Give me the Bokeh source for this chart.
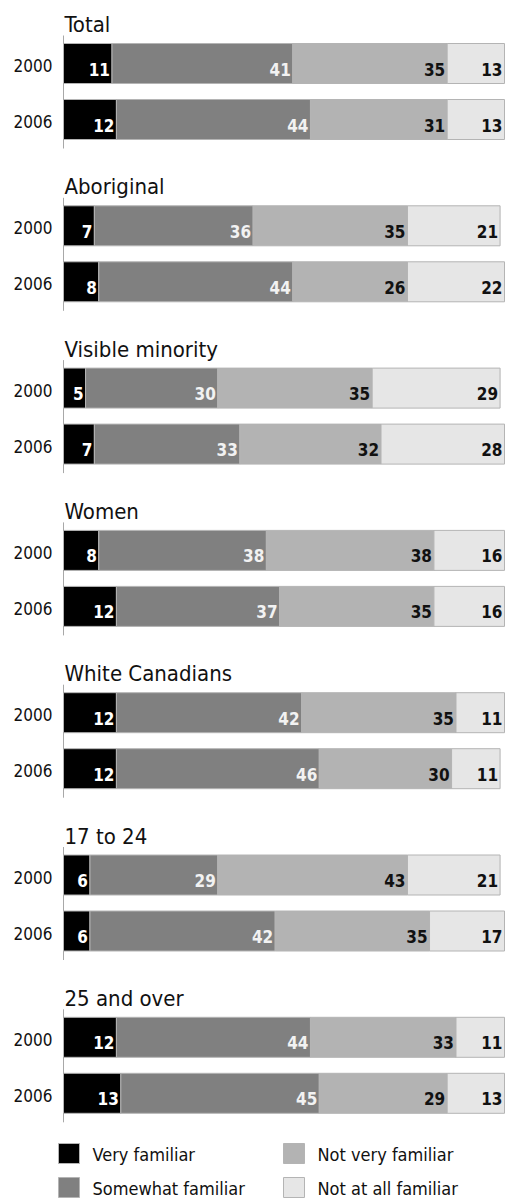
from bokeh.plotting import figure
from bokeh.models import ColumnDataSource, Range1d
from bokeh.core.properties import value
from bokeh.embed import file_html
from bokeh.resources import INLINE

# ---------------- data ----------------
groups = ["Total", "Aboriginal", "Visible minority", "Women",
          "White Canadians", "17 to 24", "25 and over"]
years = ["2000", "2006"]
categories = ["Very familiar", "Somewhat familiar",
              "Not very familiar", "Not at all familiar"]
# order: group1-2000, group1-2006, group2-2000, ...
very_familiar = [11, 12, 7, 8, 5, 7, 8, 12, 12, 12, 6, 6, 12, 13]
somewhat_familiar = [41, 44, 36, 44, 30, 33, 38, 37, 42, 46, 29, 42, 44, 45]
not_very_familiar = [35, 31, 35, 26, 35, 32, 38, 35, 35, 30, 43, 35, 33, 29]
not_at_all_familiar = [13, 13, 21, 22, 29, 28, 16, 16, 11, 11, 21, 17, 11, 13]
series = [very_familiar, somewhat_familiar, not_very_familiar, not_at_all_familiar]

# ---------------- styling / layout ----------------
colors = ["#000000", "#808080", "#b3b3b3", "#e6e6e6"]
label_colors = ["#ffffff", "#f2f2f2", "#111111", "#111111"]
FONT = value("DejaVu Sans Condensed, Roboto Condensed, Roboto, sans-serif")
W, H = 508, 1201
X0 = 63.0          # pixel where 0 % sits
SCALE = 4.41       # pixels per percent
FIRST_TOP = 43.0
GROUP_PITCH = 162.3
BAR_PITCH = 56.0
BAR_H = 40.0
TXT = -6.0         # baseline correction for rendered text

def px_to_x(px):
    return (px - X0) / SCALE

p = figure(width=W, height=H, output_backend="svg", toolbar_location=None,
           x_range=Range1d(px_to_x(0), px_to_x(W)), y_range=Range1d(H, 0),
           min_border=0, min_border_left=0, min_border_right=0,
           min_border_top=0, min_border_bottom=0)
p.axis.visible = False
p.grid.visible = False
p.outline_line_color = None
p.background_fill_color = "white"
p.border_fill_color = "white"

# ---------------- bars ----------------
seg = dict(y=[], left=[], right=[], color=[], label=[], lx=[], ly=[], lcolor=[])
year_src = dict(x=[], y=[], text=[])
axis_src = dict(x0=[], x1=[], y0=[], y1=[])
title_src = dict(x=[], y=[], text=[])

for g, name in enumerate(groups):
    top = FIRST_TOP + g * GROUP_PITCH
    title_src["x"].append(px_to_x(64))
    title_src["y"].append(top - 13 + TXT)
    title_src["text"].append(name)
    axis_src["x0"].append(0)
    axis_src["x1"].append(0)
    axis_src["y0"].append(top - 8)
    axis_src["y1"].append(top + BAR_PITCH + BAR_H + 9)
    for j, yr in enumerate(years):
        r = 2 * g + j
        yc = top + j * BAR_PITCH + BAR_H / 2
        year_src["x"].append(px_to_x(52))
        year_src["y"].append(yc + 8 + TXT)
        year_src["text"].append(yr)
        left = 0
        for k in range(4):
            v = series[k][r]
            seg["y"].append(yc)
            seg["left"].append(left)
            seg["right"].append(left + v)
            seg["color"].append(colors[k])
            seg["label"].append(str(v))
            seg["lx"].append(left + v - 2.0 / SCALE)
            seg["ly"].append(yc + 11.5 + TXT)
            seg["lcolor"].append(label_colors[k])
            left += v

src = ColumnDataSource(seg)
p.segment(x0="x0", x1="x1", y0="y0", y1="y1", source=ColumnDataSource(axis_src),
          line_color="#a8a8a8", line_width=1)
p.hbar(y="y", left="left", right="right", height=BAR_H, fill_color="color",
       line_color="#b4b4b4", line_width=1, source=src)
p.text(x="lx", y="ly", text="label", text_color="lcolor", text_align="right",
       text_baseline="alphabetic", text_font=FONT, text_font_size="17px",
       text_font_style="bold", source=src)
p.text(x="x", y="y", text="text", text_align="right", text_baseline="alphabetic",
       text_font=FONT, text_font_size="17px", text_color="#111111",
       source=ColumnDataSource(year_src))
p.text(x="x", y="y", text="text", text_align="left", text_baseline="alphabetic",
       text_font=FONT, text_font_size="22px", text_color="#111111",
       source=ColumnDataSource(title_src))

# ---------------- legend ----------------
leg_cols_px = [58, 283]
leg_rows_px = [1153, 1187]
leg = dict(x=[], y=[], w=[], color=[], tx=[], ty=[], text=[])
for k, cat in enumerate(categories):
    c, rr = k // 2, k % 2
    leg["x"].append(px_to_x(leg_cols_px[c] + 10.5))
    leg["y"].append(leg_rows_px[rr])
    leg["w"].append(21.0 / SCALE)
    leg["color"].append(colors[k])
    leg["tx"].append(px_to_x(leg_cols_px[c] + 34))
    leg["ty"].append(leg_rows_px[rr] + 7 + TXT)
    leg["text"].append(cat)
lsrc = ColumnDataSource(leg)
p.rect(x="x", y="y", width="w", height=20, fill_color="color",
       line_color="#b4b4b4", line_width=1, source=lsrc)
p.text(x="tx", y="ty", text="text", text_align="left", text_baseline="alphabetic",
       text_font=FONT, text_font_size="18px", text_color="#111111", source=lsrc)

open("out.html", "w").write(file_html(p, INLINE))
